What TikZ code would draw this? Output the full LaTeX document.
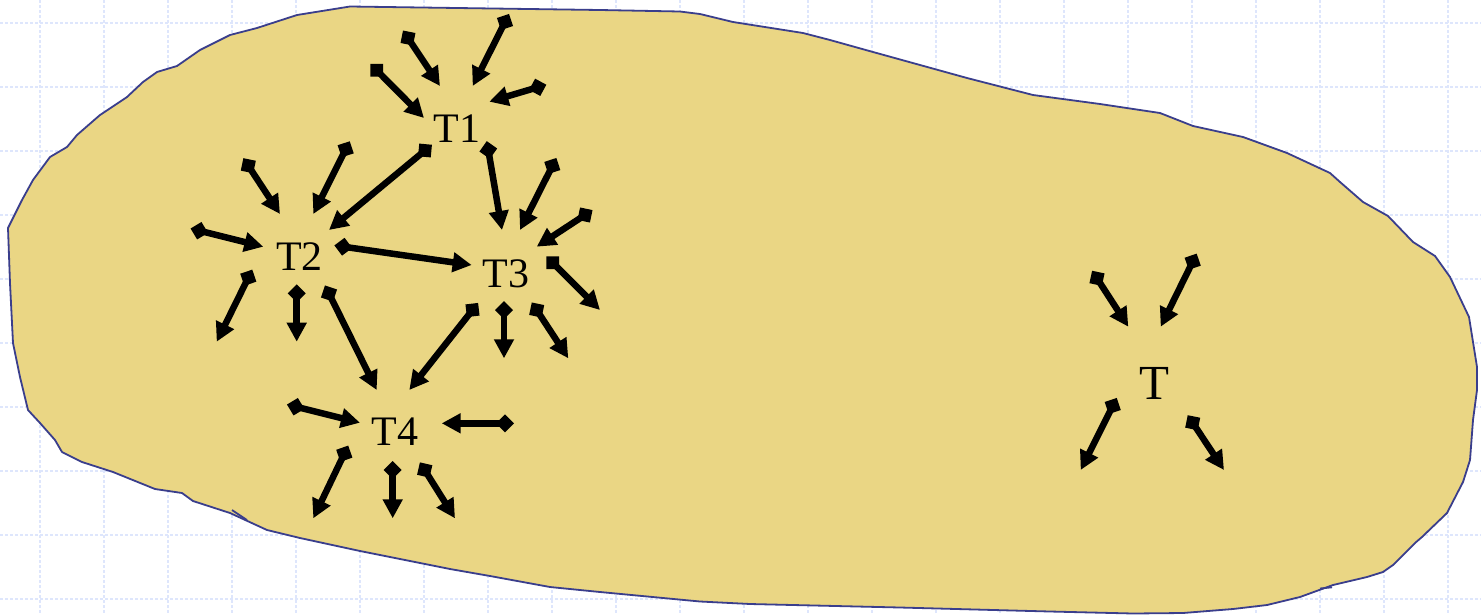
\documentclass[tikz,border=0pt]{standalone}
\usepackage{fontspec}
\setmainfont{Liberation Serif}
\usetikzlibrary{arrows.meta}
\definecolor{blobfill}{RGB}{234,214,132}
\definecolor{blobline}{RGB}{58,62,140}
\definecolor{gridcol}{RGB}{222,230,252}
\tikzset{
  arr/.style={line width=6.5pt,
    {Diamond[length=18pt,width=18pt]}-{Triangle[length=19pt,width=19pt]},
    shorten <=-9pt},
  lbl/.style={inner sep=0pt, font=\fontsize{42}{48}\selectfont},
  lblbig/.style={inner sep=0pt, font=\fontsize{49}{56}\selectfont},
  gridline/.style={draw=gridcol, line width=1.3pt, dash pattern=on 3pt off 2pt},
  blob/.style={draw=blobline, fill=blobfill, line width=1.8pt, line join=round},
  spur/.style={draw=blobline, line width=1.8pt}
}
\begin{document}
\begin{tikzpicture}[x=1pt,y=-1pt]
\useasboundingbox (0,0) rectangle (1481,614);
\fill[white] (0,0) rectangle (1481,614);
% grid
\foreach \i in {0,...,22} \draw[gridline] (40+64*\i,0) -- (40+64*\i,614);
\foreach \j in {0,...,9} \draw[gridline] (0,23+64*\j) -- (1481,23+64*\j);
% blob
\path[blob] (350,6.5) -- (600,10) -- (680,11.5) -- (700,14) -- (733,22) -- (803,33) -- (830,40)
 -- (873,52) -- (920,65) -- (967,78) -- (1033,95) -- (1100,104) -- (1160,113) -- (1193,126)
 -- (1243,137) -- (1287,153) -- (1330,173) -- (1340,182) -- (1363,202) -- (1388,216)
 -- (1413,242) -- (1435,256) -- (1450,277) -- (1469,317) -- (1477,367) -- (1477,390)
 -- (1473,420) -- (1470,460) -- (1463,482) -- (1447,513) -- (1422,537) -- (1415,543)
 -- (1393,565) -- (1383,572) -- (1367,577) -- (1333,585) -- (1300,597) -- (1267,605)
 -- (1233,609) -- (1183,613) -- (1133,613.5) -- (1050,611.5) -- (900,607.5) -- (750,604)
 -- (700,601.5) -- (600,592) -- (550,587) -- (490,576) -- (450,569) -- (360,551)
 -- (300,538) -- (267,530) -- (230,513) -- (193,501) -- (182,493) -- (155,489)
 -- (113,472) -- (82,462) -- (62,452) -- (55,440) -- (40,423) -- (28,410) -- (20,377)
 -- (13,343) -- (10,283) -- (8,228) -- (22,200) -- (33,180) -- (50,157) -- (67,147)
 -- (77,135) -- (100,115) -- (127,97) -- (143,82) -- (157,72) -- (177,66) -- (200,50)
 -- (230,35) -- (257,28) -- (297,15) -- cycle;
\draw[spur] (232,510) -- (247,520);
\draw[spur] (1320,588.5) -- (1332,587.3);
% labels
\node[lbl] (T1) at (457,129) {T1};
\node[lbl] (T2) at (299.5,256.5) {T2};
\node[lbl] (T3) at (506,274) {T3};
\node[lbl] (T4) at (395,432) {T4};
\node[lblbig] (T) at (1154,383.5) {T};
% connectors between tasks
\draw[arr] ([shift={(-32,21.5)}]T1.center) -- ([shift={(29.5,-26.5)}]T2.center);
\draw[arr] ([shift={(31.3,21)}]T1.center) -- ([shift={(-4,-44)}]T3.center);
\draw[arr] ([shift={(43.8,-9.8)}]T2.center) -- ([shift={(-34.3,-9)}]T3.center);
\draw[arr] ([shift={(29.5,37)}]T2.center) -- ([shift={(-18.3,-42)}]T4.center);
\draw[arr] ([shift={(-33.5,36)}]T3.center) -- ([shift={(14.3,-42)}]T4.center);
% stub arrows
\foreach \n/\sx/\sy/\ex/\ey in {
  a/376.7/70.3/424/118, b/408/38/440/86, c/505/22/472.7/86, d/537.7/87.3/489.3/101.7,
  e/248.3/165.7/280/214, f/345.7/149.3/313.3/214, g/199.3/230.7/263.3/246.7,
  h/248.3/277.7/216.7/341.7, i/296.7/293.3/296.7/341.7,
  j/552.3/166/520/230, k/585/215/536.7/246.7, l/552.7/262.7/600/310,
  m/504/310/504/358.3, n/536.7/310/568.3/358.3,
  o/295.7/406.7/360/422.7, p/505/423.3/441.7/423.3, q/344.3/453.7/313.3/518.3,
  r/392.7/470/392.7/518.3, s/424.7/470/455/518.3,
  t/1097/278.3/1128.3/326.7, u/1192.7/261.7/1160.7/326.7,
  v/1112.7/406/1080.7/470, w/1192.7/422.7/1224/470}
{
  \coordinate (s\n) at (\sx,\sy);
  \coordinate (e\n) at (\ex,\ey);
  \draw[arr] (s\n) -- (e\n);
}
\end{tikzpicture}
\end{document}
